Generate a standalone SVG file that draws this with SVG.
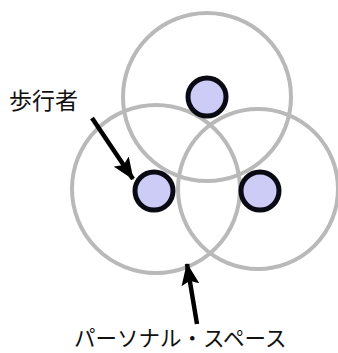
<svg xmlns="http://www.w3.org/2000/svg" width="338" height="353" viewBox="0 0 338 353">
<defs>
<style>
.ring{fill:none;stroke:#b9b9b9;stroke-width:4}
.ped{fill:#ccccf6;stroke:#0a0a14;stroke-width:5}
.lbl{font-family:"Noto Sans CJK JP","Noto Sans CJK SC",sans-serif;fill:#111}
.arr{stroke:#000;stroke-width:4.5;fill:none}
</style>
<marker id="ah" viewBox="0 0 22 18" refX="21" refY="9" markerWidth="22" markerHeight="18" orient="auto" markerUnits="userSpaceOnUse">
<path d="M0,0 L22,9 L0,18 L4,9 z" fill="#000"/>
</marker>
</defs>
<rect width="338" height="353" fill="#fff"/>
<g id="spaces">
<circle class="ring" cx="207" cy="97" r="84"/>
<circle class="ring" cx="156" cy="189" r="84"/>
<circle class="ring" cx="258" cy="189" r="80"/>
</g>
<g id="ped-top"><circle class="ped" cx="207" cy="97" r="19"/></g>
<g id="ped-left"><circle class="ped" cx="154" cy="191" r="19"/></g>
<g id="ped-right"><circle class="ped" cx="260" cy="191" r="19"/></g>
<g id="label-ped"><text class="lbl" x="9" y="109" font-size="23">歩行者</text></g>
<g id="label-space"><text class="lbl" x="74" y="346" font-size="21.5">パーソナル・スペース</text></g>
<g id="connectors">
<line class="arr" x1="92" y1="118" x2="133" y2="179" marker-end="url(#ah)"/>
<line class="arr" x1="197" y1="324" x2="187" y2="264" marker-end="url(#ah)"/>
</g>
</svg>
